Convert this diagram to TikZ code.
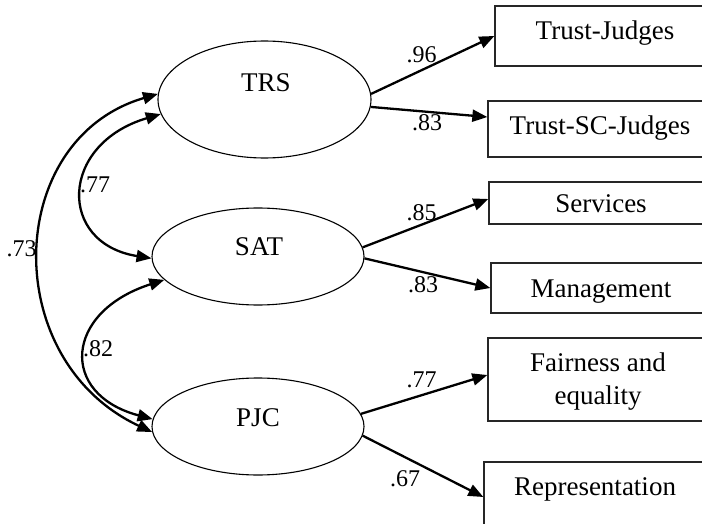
\documentclass[tikz,border=0pt]{standalone}
\usepackage{fontspec}
\setmainfont{Liberation Serif}
\usetikzlibrary{arrows.meta,shapes.geometric,calc}
\begin{document}
\begin{tikzpicture}[x=1pt,y=-1pt,
  latent/.style={draw, ellipse, line width=1.1pt, inner sep=0pt},
  obs/.style={draw=black!85, rectangle, line width=1.3pt, inner sep=0pt},
  ttl/.style={font=\fontsize{27}{32.3}\selectfont, align=center, inner sep=0pt, anchor=base},
  coef/.style={font=\fontsize{24}{26}\selectfont, inner sep=0pt, anchor=base},
  ldg/.style={-{Triangle[length=15pt,width=12pt]}, line width=2.3pt},
  cov/.style={{Triangle[length=15pt,width=12pt]}-{Triangle[length=15pt,width=12pt]}, line width=2.3pt}]
\clip (0,0) rectangle (702,524);
\fill[white] (0,0) rectangle (702,524);

% latent factors
\node[latent, minimum width=213pt, minimum height=117pt] (trs) at (264.5,99.5) {};
\node[ttl] (trsT) at (266,91.7) {TRS};
\node[latent, minimum width=212pt, minimum height=97pt] (sat) at (258,256.5) {};
\node[ttl] (satT) at (259,255) {SAT};
\node[latent, minimum width=212pt, minimum height=97pt] (pjc) at (258,426.5) {};
\node[ttl] (pjcT) at (258,426.7) {PJC};

% observed indicators
\node[obs, minimum width=210pt, minimum height=60pt] (tj) at (600,36) {};
\node[ttl] (tjT) at (605,40) {Trust-Judges};
\node[obs, minimum width=224pt, minimum height=56pt] (tsc) at (600,129) {};
\node[ttl] (tscT) at (600,135) {Trust-SC-Judges};
\node[obs, minimum width=223pt, minimum height=42pt] (srv) at (600.5,203) {};
\node[ttl] (srvT) at (601,213) {Services};
\node[obs, minimum width=218pt, minimum height=50pt] (mgt) at (600,288) {};
\node[ttl] (mgtT) at (601,297) {Management};
\node[obs, minimum width=224pt, minimum height=83pt] (fe) at (600,379.5) {};
\node[ttl] (feT) at (598,404) {Fairness and\\equality};
\node[obs, minimum width=232pt, minimum height=70pt] (rep) at (600,497) {};
\node[ttl] (repT) at (595,495) {Representation};

% factor loadings
\draw[ldg] (trs.3.5) -- (tj.west);
\draw[ldg] (trs.-4.6) -- ($(tsc.west)+(0,-12)$);
\draw[ldg] (sat.5.2) -- ($(srv.west)+(0,-4)$);
\draw[ldg] (sat.-1.4) -- (mgt.west);
\draw[ldg] (pjc.7.4) -- ($(fe.west)+(0,-4.5)$);
\draw[ldg] (pjc.-5.7) -- (rep.west);

\node[coef] (l1) at (421.7,62.3) {.96};
\node[coef] (l2) at (427,130.5) {.83};
\node[coef] (l3) at (421.7,220) {.85};
\node[coef] (l4) at (423,292.7) {.83};
\node[coef] (l5) at (421.7,387) {.77};
\node[coef] (l6) at (405,486) {.67};

% factor correlations
\draw[cov] (trs.177.6) .. controls +(-154,45) and +(-154,-72) .. (pjc.183.6);
\draw[cov] (trs.188.2) .. controls +(-101.5,30) and +(-94.5,-15) .. (sat.181.9);
\draw[cov] (sat.194.3) .. controls +(-100,32) and +(-94,-25) .. (pjc.176.5);

\node[coef] (c1) at (95,193) {.77};
\node[coef] (c2) at (21.7,256.7) {.73};
\node[coef] (c3) at (98,356.7) {.82};
\end{tikzpicture}
\end{document}
